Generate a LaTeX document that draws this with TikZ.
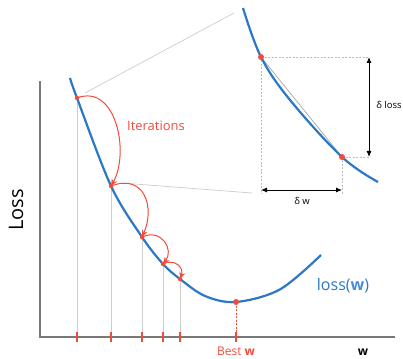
\documentclass[tikz,border=0pt]{standalone}
\usepackage{fontspec}
\setmainfont{Open Sans}
\usetikzlibrary{arrows.meta}
\definecolor{cblue}{RGB}{44,120,196}
\definecolor{lblue}{RGB}{70,140,220}
\definecolor{cred}{RGB}{240,76,60}
\definecolor{lgray}{RGB}{205,205,205}
\definecolor{agray}{RGB}{120,120,120}
\tikzset{
  curve/.style={cblue, line width=2.2pt},
  axis/.style={agray, line width=2.4pt},
  drop/.style={lgray, line width=0.8pt},
  tick/.style={cred, line width=2pt},
  iter/.style={cred, line width=1pt, -{Stealth[length=7pt,width=6pt]}},
  dot/.style={circle, fill=cred, inner sep=0pt, minimum size=#1},
  guide/.style={lgray!80!gray, line width=0.6pt, dash pattern=on 2pt off 1.5pt},
  zoomline/.style={lgray, line width=0.7pt},
  dim/.style={black, line width=0.9pt, {Latex[length=6pt,width=5pt]}-{Latex[length=6pt,width=5pt]}},
  lbl/.style={inner sep=0pt, font=\fontsize{11}{13}\selectfont}
}
\begin{document}
\begin{tikzpicture}[x=1pt,y=1pt]
\useasboundingbox (0,0) rectangle (403,358);
% coordinates
\coordinate (o) at (40,21);
\coordinate (ytop) at (40,277);
\coordinate (xend) at (395,21);
\coordinate (s0) at (70,280);
\coordinate (p1) at (77,260);
\coordinate (p2) at (111,172);
\coordinate (p3) at (142,121);
\coordinate (p4) at (163,94);
\coordinate (p5) at (180,79);
\coordinate (pm) at (236,56);
\coordinate (e) at (321,103);
\foreach \n in {p1,p2,p3,p4,p5,pm} \coordinate (\n b) at (\n |- o);
% zoom connector lines
\coordinate (z1a) at (85,265);
\coordinate (z1b) at (234,345);
\coordinate (z2a) at (122,175);
\coordinate (z2b) at (252,165);
\draw[zoomline] (z1a) -- (z1b);
\draw[zoomline] (z2a) -- (z2b);
% drop lines
\foreach \n in {p1,p2,p3,p4,p5} \draw[drop] (\n) -- (\n b);
\draw[cred, line width=1pt, dash pattern=on 2pt off 1.5pt] (pm) -- (pmb);
% axes
\draw[axis] (ytop) -- (o) -- (xend);
% ticks
\foreach \n in {p1,p2,p3,p4,p5,pm} \draw[tick] ([yshift=-5pt]\n b) -- ([yshift=5pt]\n b);
% main curve
\draw[curve] plot[smooth, tension=0.55] coordinates {(s0) (p1) (p2) (p3) (p4) (p5) (205,62) (pm) (280,68.6) (e)};
% iteration arrows
\draw[iter] (p1) .. controls (116,275) and (130,205) .. (p2);
\draw[iter] (p2) .. controls (145,185) and (155,150) .. (p3);
\draw[iter] (p3) .. controls (162,130) and (174,108) .. (p4);
\draw[iter] (p4) .. controls (175,100) and (184,90) .. (p5);
% dots
\foreach \n in {p1,p2,p3,p4,p5} \node[dot=4.5pt] at (\n) {};
\node[dot=6pt] at (pm) {};
% zoomed view
\coordinate (za) at (243,350);
\coordinate (A) at (261,301);
\coordinate (B) at (342,201);
\coordinate (zb) at (378,176);
\coordinate (Ar) at (369,301);
\coordinate (Br) at (369,201);
\coordinate (Ad) at (261,168);
\coordinate (Bd) at (342,168);
\draw[guide] (A) -- (Ar);
\draw[guide] (B) -- (Br);
\draw[guide] (A) -- ([yshift=-4pt]Ad);
\draw[guide] (B) -- ([yshift=-4pt]Bd);
\draw[gray!70, line width=0.7pt] (A) -- (B);
\draw[curve] plot[smooth, tension=0.6] coordinates {(za) (A) (290,258) (B) (zb)};
\node[dot=6pt] at (A) {};
\node[dot=6pt] at (B) {};
\draw[dim] (Ar) -- (Br);
\draw[dim] (Ad) -- (Bd);
% labels
\node[lbl, font=\fontsize{9.5}{11}\selectfont] (dl) at (389,253) {δ loss};
\node[lbl, font=\fontsize{9.5}{11}\selectfont] (dw) at (302,157) {δ w};
\node[lbl, text=cred, font=\fontsize{13}{15}\selectfont] (it) at (156,232) {Iterations};
\node[lbl, text=cblue, font=\fontsize{16}{18}\selectfont] (lw) at (343,72) {loss(\textcolor{lblue}{\textbf{w}})};
\node[lbl, text=cred, font=\fontsize{12}{14}\selectfont] (bw) at (236,7) {Best \textbf{w}};
\node[lbl, font=\fontsize{12}{14}\selectfont] (w) at (363,6) {\textbf{w}};
\node[lbl, font=\fontsize{20}{22}\selectfont, rotate=90] (loss) at (16,148) {Loss};
\end{tikzpicture}
\end{document}
